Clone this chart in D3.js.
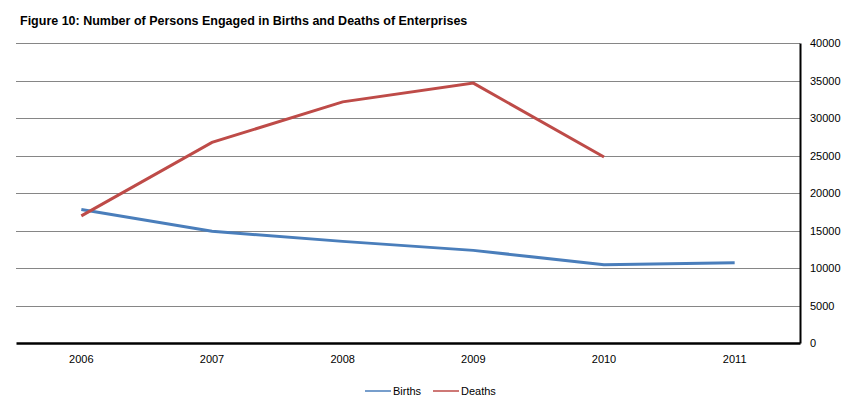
<!DOCTYPE html>
<html>
<head>
<meta charset="UTF-8">
<title>Figure 10</title>
<script src="https://d3js.org/d3.v7.min.js"></script>
<style>
  body { margin: 0; background: #fff; }
  svg { display: block; font-family: "Liberation Sans", Arial, sans-serif; }
</style>
</head>
<body>
<svg width="856" height="410"></svg>
<script>
var years = ['2006', '2007', '2008', '2009', '2010', '2011'];
var births = [17800, 14900, 13550, 12350, 10450, 10700];
var deaths = [16950, 26750, 32150, 34650, 24800, null];
var yTicks = [0, 5000, 10000, 15000, 20000, 25000, 30000, 35000, 40000];

var colors = { Births: '#4a7ebb', Deaths: '#be4b48' };
var svg = d3.select('svg');
var plotLeft = 16, plotRight = 800, plotTop = 43, plotBottom = 343;

var x = d3.scaleBand().domain(years).range([plotLeft, plotRight]);
var y = d3.scaleLinear().domain([0, 40000]).range([plotBottom, plotTop]);

// title
svg.append('text')
    .attr('x', 20).attr('y', 25)
    .attr('font-size', '12.5px').attr('font-weight', 'bold')
    .text('Figure 10: Number of Persons Engaged in Births and Deaths of Enterprises');

// gridlines
svg.append('g')
    .selectAll('line')
    .data(yTicks.slice(1))
    .enter().append('line')
    .attr('x1', plotLeft).attr('x2', plotRight)
    .attr('y1', function(d) { return Math.round(y(d)) + 0.5; })
    .attr('y2', function(d) { return Math.round(y(d)) + 0.5; })
    .attr('stroke', '#868686').attr('stroke-width', 1);

// right axis
var yAxis = d3.axisRight(y).tickValues(yTicks).tickSize(0).tickPadding(10).tickFormat(d3.format('d'));
var gy = svg.append('g').attr('transform', 'translate(' + plotRight + ',0)').call(yAxis);
gy.select('.domain').attr('stroke', '#000').attr('stroke-width', 2);
gy.selectAll('text').attr('font-size', '11px').attr('font-family', '"Liberation Sans", Arial, sans-serif').attr('fill', '#000');

// bottom axis
var xAxis = d3.axisBottom(x).tickSize(0).tickPadding(12);
var gx = svg.append('g').attr('transform', 'translate(0,' + plotBottom + ')').call(xAxis);
gx.select('.domain').attr('stroke', '#000').attr('stroke-width', 2.5);
gx.selectAll('text').attr('font-size', '11px').attr('font-family', '"Liberation Sans", Arial, sans-serif').attr('fill', '#000');

// lines
var line = d3.line()
    .defined(function(d) { return d != null; })
    .x(function(d, i) { return x(years[i]) + x.bandwidth() / 2; })
    .y(function(d) { return y(d); });

[['Births', births], ['Deaths', deaths]].forEach(function(s) {
    svg.append('path')
        .datum(s[1])
        .attr('fill', 'none')
        .attr('stroke', colors[s[0]])
        .attr('stroke-width', 3)
        .attr('d', line);
});

// legend
var legendX = [365, 433];
['Births', 'Deaths'].forEach(function(name, i) {
    var g = svg.append('g').attr('transform', 'translate(' + legendX[i] + ',391)');
    g.append('line').attr('x1', 0).attr('x2', 26).attr('y1', 0).attr('y2', 0)
        .attr('stroke', colors[name]).attr('stroke-width', 1.5);
    g.append('text').attr('x', 28).attr('y', 4)
        .attr('font-size', '11px').text(name);
});
</script>
</body>
</html>
